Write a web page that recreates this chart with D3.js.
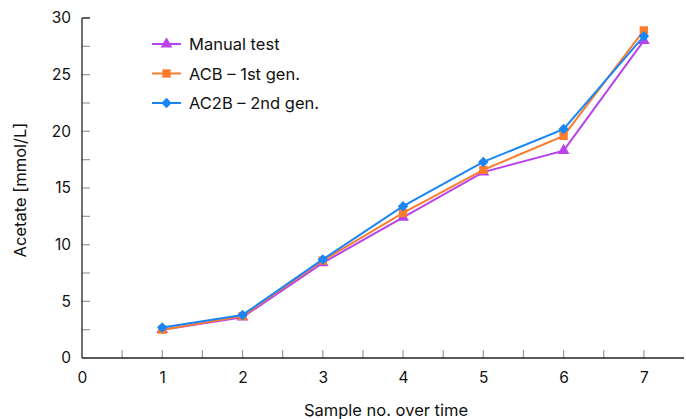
<!DOCTYPE html>
<html>
<head>
<meta charset="utf-8">
<script src="https://cdn.jsdelivr.net/npm/d3@7"></script>
<style>
  body { margin: 0; background: #fff; }
  svg { display: block; font-family: "Inter", "Roboto", sans-serif; }
</style>
</head>
<body>
<svg id="chart"></svg>
<script>
const samples = [1, 2, 3, 4, 5, 6, 7];
const manualTest = [2.5, 3.6, 8.4, 12.4, 16.4, 18.3, 28.0];
const acbFirst = [2.5, 3.7, 8.6, 12.8, 16.6, 19.6, 28.9];
const ac2bSecond = [2.7, 3.8, 8.7, 13.4, 17.3, 20.2, 28.4];
const seriesNames = ['Manual test', 'ACB – 1st gen.', 'AC2B – 2nd gen.'];
const xTicks = [0, 1, 2, 3, 4, 5, 6, 7];
const yTicks = [0, 5, 10, 15, 20, 25, 30];

const w = 686, h = 419;
const svg = d3.select('#chart').attr('width', w).attr('height', h);

const x = d3.scaleLinear().domain([0, 7.5]).range([82, 684]);
const y = d3.scaleLinear().domain([0, 30]).range([358, 18]);

// diamond = square turned 45deg
const series = [
  {name: seriesNames[0], vals: manualTest, color: '#b942ec', shape: d3.symbolTriangle, size: 60, rot: 0},
  {name: seriesNames[1], vals: acbFirst, color: '#fb7d2c', shape: d3.symbolSquare, size: 70, rot: 0},
  {name: seriesNames[2], vals: ac2bSecond, color: '#1a86f5', shape: d3.symbolSquare, size: 55, rot: 45}
];

// minor ticks
const grey = '#9a9a9a';
svg.append('g').selectAll('line').data(d3.range(0.5, 7.5, 0.5))
  .join('line')
  .attr('x1', d => x(d)).attr('x2', d => x(d))
  .attr('y1', y(0)).attr('y2', y(0) - 8)
  .attr('stroke', grey).attr('stroke-width', 1.2);
svg.append('g').selectAll('line').data(d3.range(2.5, 30.1, 2.5))
  .join('line')
  .attr('x1', x(0)).attr('x2', x(0) + 8)
  .attr('y1', d => y(d)).attr('y2', d => y(d))
  .attr('stroke', grey).attr('stroke-width', 1.2);

// axes
const xAxis = d3.axisBottom(x).tickValues(xTicks).tickSize(0).tickPadding(14).tickFormat(d3.format('d'));
const gx = svg.append('g').attr('transform', `translate(0,${y(0)})`).call(xAxis);
const yAxis = d3.axisLeft(y).tickValues(yTicks).tickSize(0).tickPadding(11).tickFormat(d3.format('d'));
const gy = svg.append('g').attr('transform', `translate(${x(0)},0)`).call(yAxis);
[gx, gy].forEach(g => {
  g.select('.domain').attr('stroke', '#222').attr('stroke-width', 1.3);
  g.selectAll('text').attr('font-size', 15.5).attr('fill', '#111').attr('font-family', 'Inter, Roboto, sans-serif');
});
gy.select('.domain').attr('d', `M0,${y(0)}V${y(30)}`);
gx.select('.domain').attr('d', `M${x(0)},0H${x(7.5)}`);
svg.append('line').attr('x1', x(0)).attr('x2', x(0) + 8)
  .attr('y1', y(30)).attr('y2', y(30)).attr('stroke', '#222').attr('stroke-width', 1.2);

// lines + markers
const line = d3.line().x((d, i) => x(samples[i])).y(d => y(d));
series.forEach(s => {
  svg.append('path').datum(s.vals).attr('d', line)
    .attr('fill', 'none').attr('stroke', s.color).attr('stroke-width', 2);
  svg.append('g').selectAll('path').data(s.vals).join('path')
    .attr('transform', (d, i) => `translate(${x(samples[i])},${y(d)}) rotate(${s.rot})`)
    .attr('d', d3.symbol().type(s.shape).size(s.size))
    .attr('fill', s.color);
});

// legend
const legend = svg.append('g');
series.forEach((s, i) => {
  const ly = 44 + i * 29.5;
  legend.append('line').attr('x1', 152).attr('x2', 181).attr('y1', ly).attr('y2', ly)
    .attr('stroke', s.color).attr('stroke-width', 2);
  legend.append('path').attr('transform', `translate(166.5,${ly}) rotate(${s.rot})`)
    .attr('d', d3.symbol().type(s.shape).size(s.size)).attr('fill', s.color);
  legend.append('text').attr('x', 189).attr('y', ly + 6)
    .attr('font-size', 16.5).attr('fill', '#111').text(s.name);
});

// axis titles
svg.append('text').attr('x', 386).attr('y', 416).attr('text-anchor', 'middle')
  .attr('font-size', 16.5).attr('fill', '#111').text('Sample no. over time');
svg.append('text').attr('transform', 'translate(26,190) rotate(-90)').attr('text-anchor', 'middle')
  .attr('font-size', 16.5).attr('fill', '#111').text('Acetate [mmol/L]');
</script>
</body>
</html>
